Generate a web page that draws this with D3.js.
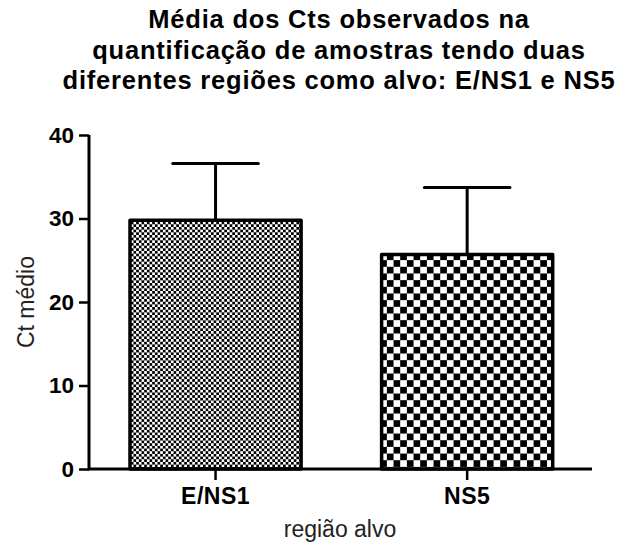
<!DOCTYPE html>
<html>
  <head>
    <meta charset="utf-8">
    <script src="https://cdn.jsdelivr.net/npm/d3@7"></script>
    <style>
      body { margin: 0; background: #fff; }
      text { font-family: "Liberation Sans", Arial, sans-serif; }
    </style>
  </head>
  <body>
    <script type="text/javascript">
      var w = 624;
      var h = 547;

      // dados
      var categorias = ["E/NS1", "NS5"];
      var medias = [29.8, 25.7];
      var desvios = [6.8, 8.0];
      var yTicks = [0, 10, 20, 30, 40];
      var titulo = ["Média dos Cts observados na",
                    "quantificação de amostras tendo duas",
                    "diferentes regiões como alvo: E/NS1 e NS5"];

      var svg = d3.select("body")
                  .append("svg")
                    .attr("width", w)
                    .attr("height", h);

      // padroes xadrez das barras
      var defs = svg.append("defs");
      function xadrez(id, s) {
        var p = defs.append("pattern")
          .attr("id", id)
          .attr("patternUnits", "userSpaceOnUse")
          .attr("width", 2 * s)
          .attr("height", 2 * s);
        p.append("rect").attr("width", 2 * s).attr("height", 2 * s).attr("fill", "#fff");
        p.append("rect").attr("width", s).attr("height", s).attr("fill", "#000");
        p.append("rect").attr("x", s).attr("y", s).attr("width", s).attr("height", s).attr("fill", "#000");
      }
      xadrez("fino", 2.67);
      xadrez("grosso", 6.67);
      var padroes = ["url(#fino)", "url(#grosso)"];

      var x0 = 89, x1 = 592, yBase = 469;

      var y = d3.scaleLinear().domain([0, 40]).range([yBase, 135]);
      var x = d3.scaleBand()
                .domain(categorias)
                .range([130, 552.7])
                .paddingInner(0.32)
                .paddingOuter(0);

      // titulo
      svg.append("g").selectAll("text")
         .data(titulo)
         .enter()
         .append("text")
           .attr("x", 339)
           .attr("y", function(d, i){ return 28 + i * 30.5; })
           .attr("text-anchor", "middle")
           .attr("font-weight", "bold")
           .attr("font-size", 25.5)
           .attr("letter-spacing", 0.8)
           .attr("fill", "#000")
           .text(function(d){ return d; });

      // barras
      svg.selectAll("rect.barra")
         .data(medias)
         .enter()
         .append("rect")
           .attr("class", "barra")
           .attr("x", function(d, i){ return x(categorias[i]); })
           .attr("y", function(d){ return y(d); })
           .attr("width", x.bandwidth())
           .attr("height", function(d){ return yBase - y(d); })
           .attr("fill", function(d, i){ return padroes[i]; })
           .attr("stroke", "#000")
           .attr("stroke-width", 3.5)
           .attr("stroke-linejoin", "round");

      // barras de erro (so para cima)
      var erro = svg.append("g")
                    .attr("stroke", "#000")
                    .attr("stroke-width", 3)
                    .attr("stroke-linecap", "round");
      medias.forEach(function(m, i){
        var cx = x(categorias[i]) + x.bandwidth() / 2;
        var meia = x.bandwidth() / 4;
        erro.append("line")
            .attr("x1", cx).attr("x2", cx)
            .attr("y1", y(m)).attr("y2", y(m + desvios[i]));
        erro.append("line")
            .attr("x1", cx - meia).attr("x2", cx + meia)
            .attr("y1", y(m + desvios[i])).attr("y2", y(m + desvios[i]));
      });

      // eixo y
      var eixoY = svg.append("g")
         .attr("transform", "translate(" + x0 + ",0)")
         .call(d3.axisLeft(y).tickValues(yTicks).tickSize(10).tickPadding(5));
      eixoY.select(".domain").remove();
      eixoY.selectAll(".tick line").attr("stroke", "#000").attr("stroke-width", 2.5);
      eixoY.selectAll(".tick text")
           .attr("font-family", "'Liberation Sans', Arial, sans-serif")
           .attr("font-size", 22.5)
           .attr("font-weight", "bold")
           .attr("fill", "#000");

      // eixo x
      var eixoX = svg.append("g")
         .attr("transform", "translate(0," + yBase + ")")
         .call(d3.axisBottom(x).tickSize(11).tickPadding(8));
      eixoX.select(".domain").remove();
      eixoX.selectAll(".tick line").attr("stroke", "#000").attr("stroke-width", 2.5);
      eixoX.selectAll(".tick text")
           .attr("font-family", "'Liberation Sans', Arial, sans-serif")
           .attr("font-size", 23)
           .attr("font-weight", "bold")
           .attr("letter-spacing", 0.5)
           .attr("fill", "#000");

      // linhas dos eixos
      svg.append("path")
         .attr("d", "M" + x0 + "," + y(40) + "V" + yBase + "H" + x1)
         .attr("fill", "none")
         .attr("stroke", "#000")
         .attr("stroke-width", 3);

      // rotulos dos eixos
      svg.append("text")
         .attr("transform", "translate(34,302) rotate(-90)")
         .attr("text-anchor", "middle")
         .attr("font-size", 23)
         .attr("fill", "#222")
         .text("Ct médio");

      svg.append("text")
         .attr("x", 340)
         .attr("y", 537)
         .attr("text-anchor", "middle")
         .attr("font-size", 23)
         .attr("fill", "#222")
         .text("região alvo");
    </script>
  </body>
</html>
